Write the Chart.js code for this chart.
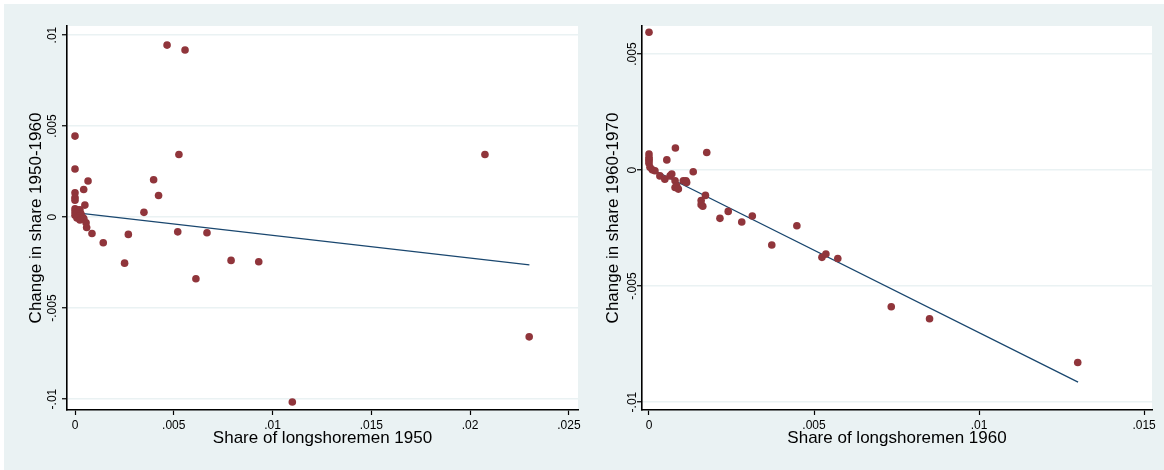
<!DOCTYPE html>
<html>
<head>
<meta charset="utf-8">
<script src="https://cdn.jsdelivr.net/npm/chart.js@4.4.0/dist/chart.umd.min.js"></script>
<style>
  html, body { margin: 0; padding: 0; background: #ffffff; }
  #wrap { position: absolute; left: 4px; top: 4px; width: 1160px; height: 466px; background: #eaf2f3; }
  #c1 { position: absolute; left: 0; top: 0; }
  #c2 { position: absolute; left: 586px; top: 0; }
</style>
</head>
<body>
<div id="wrap">
  <canvas id="c1" width="586" height="466"></canvas>
  <canvas id="c2" width="574" height="466"></canvas>
</div>
<script>
// ---- Panel 1: 1950 share vs change 1950-1960 ----
const share1950 = [0.00466, 0.00557, 0, 0, 0.00066, 0.00044, 0, 0, 0, 0.0005,
  0, 0.0001, 0.00025, 0, 0.00012, 0.0003, 0, 0.0002, 0.0001, 0.0004, 0.00025, 0.00045,
  0.00056, 0.00059, 0.00086, 0.00143, 0.0027, 0.00398, 0.00423, 0.00349, 0.00251,
  0.0052, 0.00668, 0.00612, 0.0079, 0.0093, 0.00526, 0.02075, 0.02299, 0.011];
const change1950_1960 = [0.00945, 0.00918, 0.00445, 0.00264, 0.00198, 0.00152, 0.00134, 0.00108, 0.00093, 0.00066,
  0.00045, 0.00040, 0.00040, 0.00028, 0.00022, 0.00018, 0.00010, 0.00004, -0.00005, -0.00002, -0.00016, -0.0001,
  -0.00031, -0.00057, -0.0009, -0.00141, -0.00095, 0.00205, 0.00119, 0.00026, -0.00253,
  -0.00081, -0.00086, -0.00339, -0.00238, -0.00245, 0.00344, 0.00344, -0.00658, -0.01016];
const fit1950_x = [0, 0.023];
const fit1950_y = [0.00024, -0.00263];
const xTicks1950 = [0, 0.005, 0.01, 0.015, 0.02, 0.025];
const xTickLabels1950 = ['0', '.005', '.01', '.015', '.02', '.025'];
const yTicks1950 = [-0.01, -0.005, 0, 0.005, 0.01];
const yTickLabels1950 = ['-.01', '-.005', '0', '.005', '.01'];

// ---- Panel 2: 1960 share vs change 1960-1970 ----
const share1960 = [0, 0, 0, 0, 0, 0, 0.00003, 0.0001, 0.00018,
  0.0008, 0.00175, 0.00054, 0.00134,
  0.00033, 0.00048, 0.00064, 0.00069, 0.00079, 0.00084, 0.00079, 0.00089, 0.00104, 0.00112, 0.00114,
  0.00171, 0.00158, 0.00158, 0.00163, 0.00215, 0.0024, 0.00281, 0.00313, 0.00372, 0.00448,
  0.00524, 0.00536, 0.00572, 0.00734, 0.0085, 0.01299];
const change1960_1970 = [0.00594, 0.00069, 0.00055, 0.00047, 0.0004, 0.0003, 0.00012, 0.00001, -0.00003,
  0.00095, 0.00076, 0.00044, -0.00007,
  -0.00025, -0.00039, -0.00025, -0.00017, -0.00046, -0.00068, -0.00075, -0.00082, -0.00046, -0.00046, -0.00053,
  -0.00109, -0.00131, -0.00149, -0.00156, -0.00208, -0.00178, -0.00224, -0.00198, -0.00323, -0.0024,
  -0.00376, -0.00362, -0.00381, -0.00589, -0.00641, -0.00829];
const fit1960_x = [0, 0.013];
const fit1960_y = [0.0001, -0.00914];
const xTicks1960 = [0, 0.005, 0.01, 0.015];
const xTickLabels1960 = ['0', '.005', '.01', '.015'];
const yTicks1960 = [-0.01, -0.005, 0, 0.005];
const yTickLabels1960 = ['-.01', '-.005', '0', '.005'];

const MARKER = '#90353b';
const LINE = '#1a476f';
const GRID = '#eaf2f3';
const FONT = '"Liberation Sans", Arial, Helvetica, sans-serif';

const plotBg = {
  id: 'plotBg',
  beforeDraw(chart) {
    const a = chart.chartArea, ctx = chart.ctx;
    ctx.save();
    ctx.fillStyle = '#ffffff';
    ctx.fillRect(a.left, a.top, a.right - a.left, a.bottom - a.top);
    ctx.restore();
  }
};

function makeChart(id, xs, ys, fx, fy, xT, xL, yT, yL, xr, yr, xTitle, yTitle, yAxisW, yTitlePad, yTickPad) {
  return new Chart(document.getElementById(id), {
    type: 'scatter',
    data: {
      datasets: [
        {
          data: xs.map((x, i) => ({ x: x, y: ys[i] })),
          backgroundColor: MARKER,
          borderWidth: 0,
          pointRadius: 3.8,
          order: 1
        },
        {
          type: 'line',
          data: fx.map((x, i) => ({ x: x, y: fy[i] })),
          borderColor: LINE,
          borderWidth: 1.3,
          pointRadius: 0,
          fill: false,
          order: 2
        }
      ]
    },
    options: {
      responsive: false,
      devicePixelRatio: 1,
      animation: false,
      layout: { padding: { top: 22, right: 12, left: 0, bottom: 0 } },
      plugins: { legend: { display: false }, tooltip: { enabled: false } },
      scales: {
        x: {
          type: 'linear',
          min: xr[0], max: xr[1],
          afterBuildTicks: (s) => { s.ticks = xT.map(v => ({ value: v })); },
          afterFit: (s) => { s.height = 60; },
          grid: { drawOnChartArea: false, drawTicks: true, tickLength: 5, tickColor: '#000', tickWidth: 1.2 },
          border: { color: '#000', width: 1.6 },
          ticks: {
            color: '#000', padding: 3, maxRotation: 0, minRotation: 0,
            font: { family: FONT, size: 12 },
            callback: (v, i) => xL[i]
          },
          title: {
            display: true, text: xTitle, color: '#000',
            font: { family: FONT, size: 17 }, padding: { top: 1, bottom: 21 }
          }
        },
        y: {
          type: 'linear',
          min: yr[0], max: yr[1],
          afterBuildTicks: (s) => { s.ticks = yT.map(v => ({ value: v })); },
          afterFit: (s) => { s.width = yAxisW; },
          grid: { color: GRID, lineWidth: 1.5, drawTicks: true, tickLength: 5, tickColor: '#000', tickWidth: 1.2 },
          border: { color: '#000', width: 1.6 },
          ticks: {
            color: '#000', padding: yTickPad, minRotation: 90, maxRotation: 90, crossAlign: 'center',
            font: { family: FONT, size: 12 },
            callback: (v, i) => yL[i]
          },
          title: {
            display: true, text: yTitle, color: '#000',
            font: { family: FONT, size: 17 }, padding: { top: yTitlePad, bottom: 0 }
          }
        }
      }
    },
    plugins: [plotBg]
  });
}

makeChart('c1', share1950, change1950_1960, fit1950_x, fit1950_y,
  xTicks1950, xTickLabels1950, yTicks1950, yTickLabels1950,
  [-0.000405, 0.02546], [-0.0106, 0.0105],
  'Share of longshoremen 1950', 'Change in share 1950-1960', 63, 22, -4);

makeChart('c2', share1960, change1960_1970, fit1960_x, fit1960_y,
  xTicks1960, xTickLabels1960, yTicks1960, yTickLabels1960,
  [-0.000212, 0.01524], [-0.01034, 0.00621],
  'Share of longshoremen 1960', 'Change in share 1960-1970', 52, 13, -9);
</script>
</body>
</html>
